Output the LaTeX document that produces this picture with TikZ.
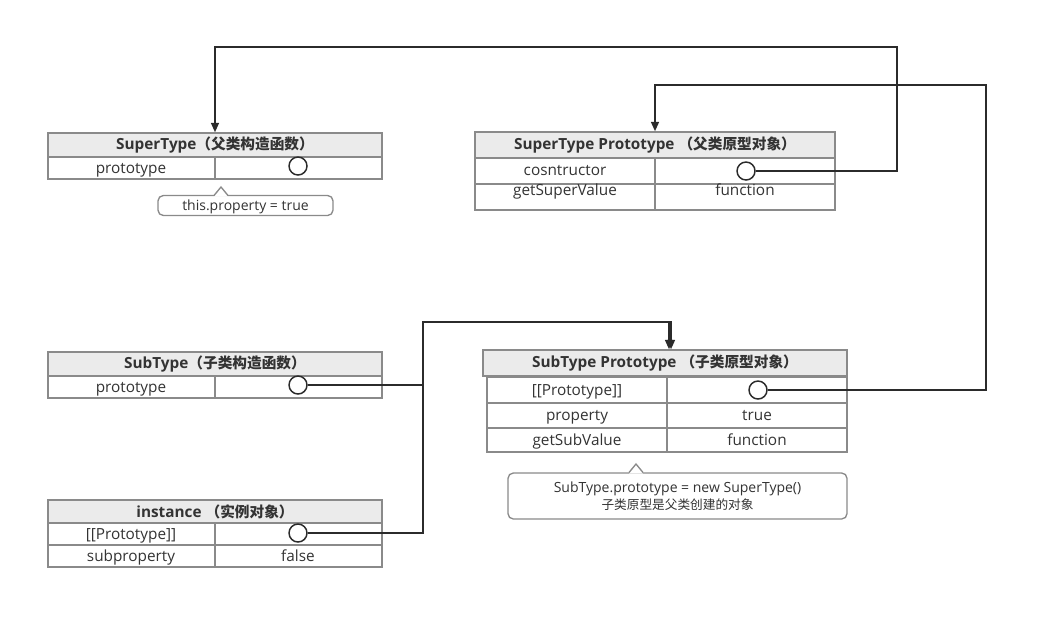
\documentclass[tikz,border=0pt]{standalone}
\usepackage{fontspec}
\setmainfont{Open Sans}
\newfontfamily\cjk{Noto Sans CJK SC}
\newcommand{\zh}[1]{{\cjk\fontsize{11}{12}\selectfont #1}}
\usetikzlibrary{arrows.meta}
\definecolor{bord}{HTML}{8A8A8A}
\definecolor{hfill}{HTML}{EBEBEB}
\definecolor{ink}{HTML}{333333}
\definecolor{wirec}{HTML}{2B2B2B}
\begin{document}
\begin{tikzpicture}[x=0.75pt,y=-0.75pt,
 hdr/.style={draw=bord, fill=hfill, line width=1.2pt, inner sep=0pt, font=\bfseries\fontsize{11.5}{12}\selectfont, text=ink},
 cell/.style={draw=bord, line width=1.2pt},
 txt/.style={font=\fontsize{11.5}{12}\selectfont, text=ink, inner sep=0pt, text height=1.6ex, text depth=0.4ex},
 ptr/.style={draw=wirec, fill=white, line width=1.1pt, circle, minimum size=13.5pt, inner sep=0pt},
 wire/.style={draw=wirec, line width=1.1pt},
 arr/.style={wire, -{Triangle[length=7pt,width=6pt]}},
 note/.style={draw=bord, line width=1pt, rounded corners=4pt, fill=white, inner sep=0pt, align=center, font=\fontsize{10.5}{13}\selectfont, text=ink},
 noteptr/.style={draw=bord, line width=1pt}]
\useasboundingbox (0,0) rectangle (1048,629);

% SuperType
\node[hdr, minimum width=334*0.75pt, minimum height=24*0.75pt] (hsup) at (215,145) {SuperType\zh{（父类构造函数）}};
\draw[cell] (48,157) rectangle (382,179);
\draw[cell] (215,157) -- (215,179);
\node[txt] (tsup1) at (131,169) {prototype};
\node[ptr] (csup) at (298,166) {};

% callout 1
\node[note, minimum width=175*0.75pt, minimum height=20*0.75pt, text height=1.6ex, text depth=0.3ex] (n1) at (245.5,205.5) {this.property = true};
\fill[white] (214,196.6) -- (221,187) -- (228,196.6) -- cycle;
\draw[noteptr] (214,195.5) -- (221,187) -- (228,195.5);

% SuperType Prototype
\node[hdr, minimum width=360*0.75pt, minimum height=26*0.75pt] (hsp) at (655,145) {SuperType Prototype \zh{（父类原型对象）}};
\draw[cell] (475,158) rectangle (835,210);
\draw[cell] (475,184) -- (835,184);
\draw[cell] (655,158) -- (655,210);
\node[txt] (tsp1) at (565,171.5) {cosntructor};
\node[txt] (tsp2) at (565,191.5) {getSuperValue};
\node[ptr] (csp) at (746,171) {};
\node[txt] (tsp3) at (745,191.5) {function};

% SubType
\node[hdr, minimum width=334*0.75pt, minimum height=24*0.75pt] (hsub) at (215,364) {SubType\zh{（子类构造函数）}};
\draw[cell] (48,376) rectangle (382,398);
\draw[cell] (215,376) -- (215,398);
\node[txt] (tsub1) at (131,388) {prototype};
\node[ptr] (csub) at (298,385) {};

% SubType Prototype
\node[hdr, minimum width=364*0.75pt, minimum height=26*0.75pt] (hsubp) at (665,363) {SubType Prototype \zh{（子类原型对象）}};
\draw[cell] (487,377) rectangle (847,452);
\draw[cell] (487,403) -- (847,403);
\draw[cell] (487,428) -- (847,428);
\draw[cell] (667,377) -- (667,452);
\node[txt] (tsbp1) at (577,391) {[[Prototype]]};
\node[txt] (tsbp2) at (577,416) {property};
\node[txt] (tsbp3) at (577,441) {getSubValue};
\node[ptr] (csubp) at (758,390) {};
\node[txt] (tsbp4) at (757,416) {true};
\node[txt] (tsbp5) at (757,441) {function};

% callout 2
\node[note, minimum width=339*0.75pt, minimum height=46*0.75pt] (n2) at (677.5,496) {SubType.prototype = new SuperType()\\{\cjk\fontsize{9.5}{12}\selectfont 子类原型是父类创建的对象}};
\fill[white] (629,473.6) -- (636,464) -- (643,473.6) -- cycle;
\draw[noteptr] (629,472.5) -- (636,464) -- (643,472.5);

% instance
\node[hdr, minimum width=334*0.75pt, minimum height=23*0.75pt] (hins) at (215,511.5) {instance \zh{（实例对象）}};
\draw[cell] (48,523) rectangle (382,567);
\draw[cell] (48,545) -- (382,545);
\draw[cell] (215,523) -- (215,567);
\node[txt] (tins1) at (131,535) {[[Prototype]]};
\node[txt] (tins2) at (131,557) {subproperty};
\node[ptr] (cins) at (298,533) {};
\node[txt] (tins3) at (298,557) {false};

% connectors
\draw[arr] (csp.east) -- (897,171) -- (897,47) -- (215,47) -- (hsup.north);
\draw[arr] (csubp.east) -- (986,390) -- (986,85) -- (655,85) -- (hsp.north);
\draw[arr] (csub.east) -- (423,385) -- (423,322) -- (669,322) -- ([xshift=3pt]hsubp.north);
\draw[arr] (cins.east) -- (423,533) -- (423,322) -- (671,322) -- ([xshift=4.5pt]hsubp.north);
\end{tikzpicture}
\end{document}
